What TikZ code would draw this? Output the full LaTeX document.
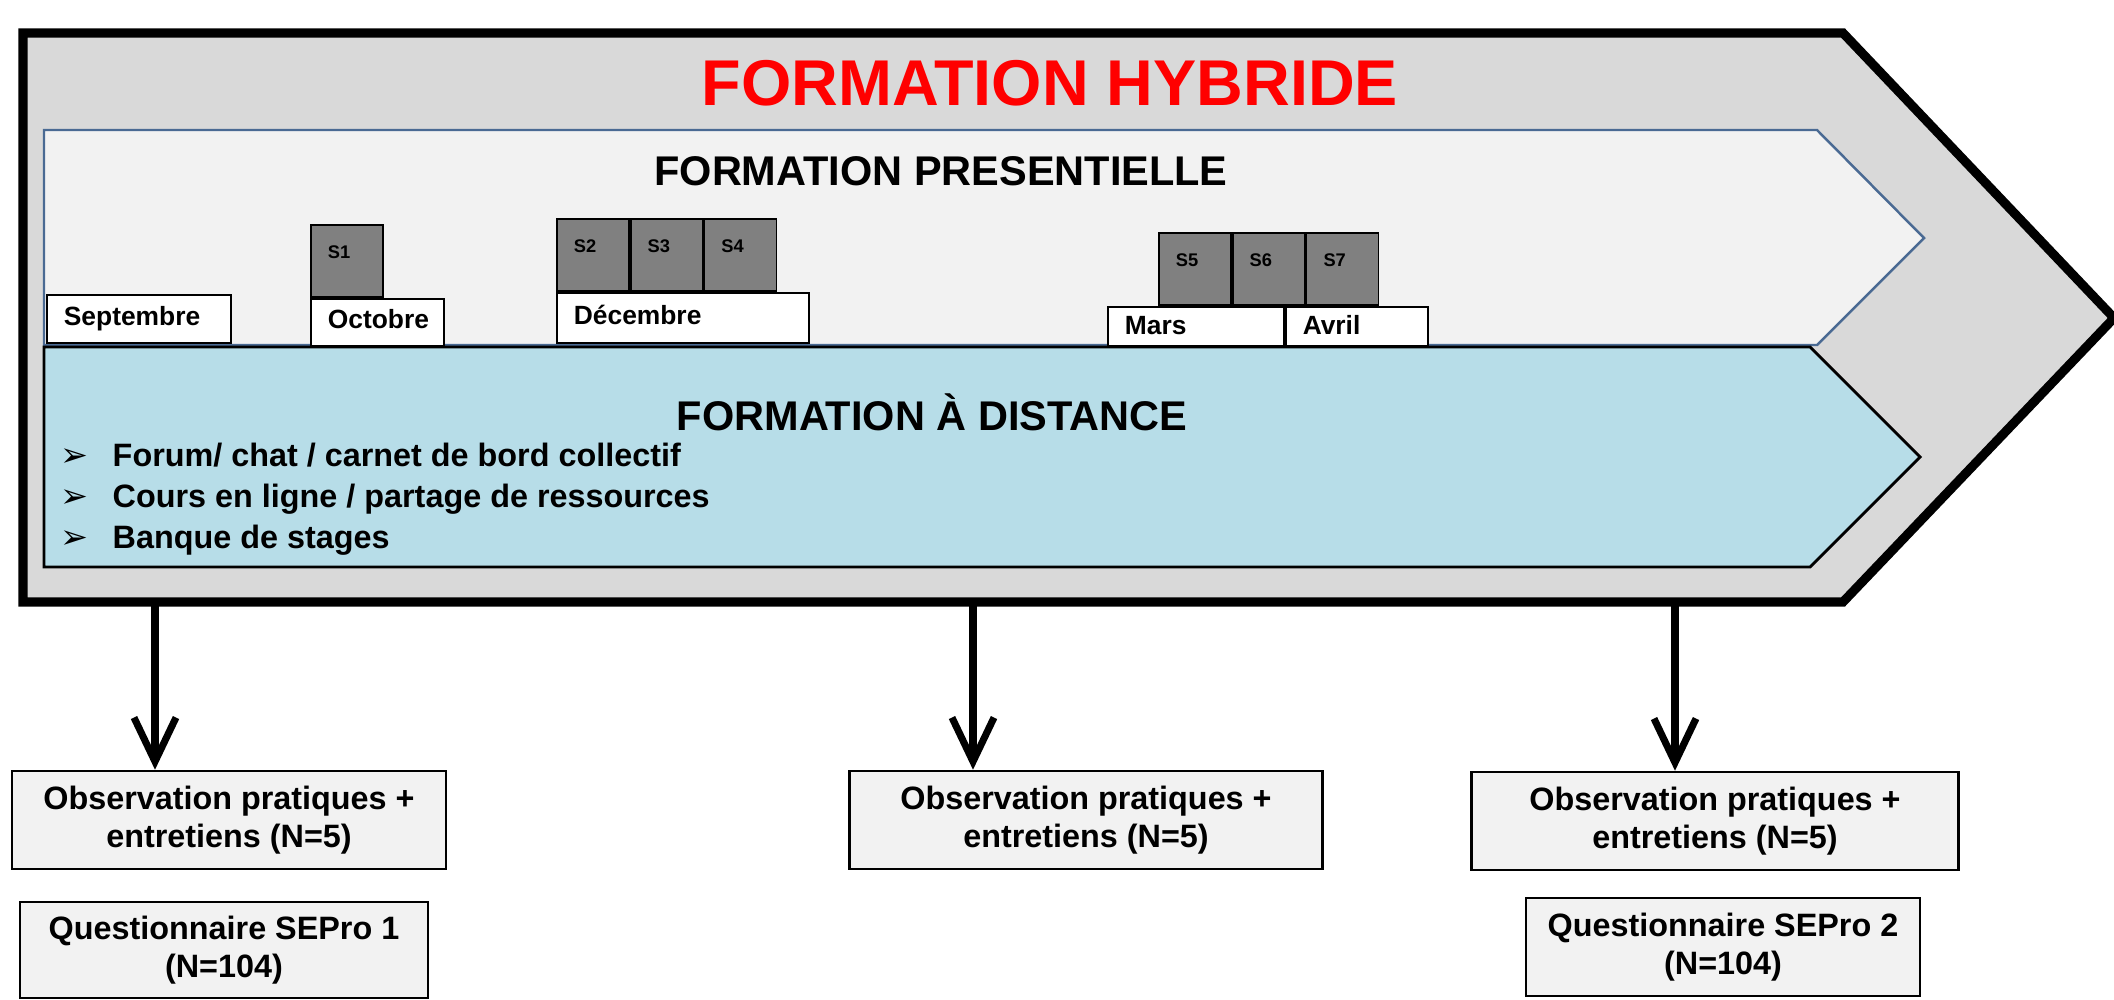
\documentclass[tikz,border=0pt]{standalone}
\usepackage{fontspec}
\setmainfont{Liberation Sans}
\newfontfamily\symfont{DejaVu Sans}
\usepackage{tikz}
\usepackage{xcolor}
\usetikzlibrary{arrows.meta, positioning}

\definecolor{hybgray}{HTML}{D9D9D9}
\definecolor{hybred}{HTML}{FF0000}
\definecolor{presfill}{HTML}{F2F2F2}
\definecolor{presblue}{HTML}{4A6A93}
\definecolor{distfill}{HTML}{B7DDE8}
\definecolor{sessgray}{HTML}{808080}
\definecolor{boxgray}{HTML}{F2F2F2}
\newcommand{\bul}{\makebox[0.52cm][l]{\symfont\fontsize{9.5}{9.5}\selectfont ➢}}

\begin{document}
\begin{tikzpicture}[x=0.01cm, y=-0.01cm, node distance=0pt]
\tikzstyle{month} = [draw=black, fill=white, line width=0.5pt, anchor=north west, inner xsep=0.17cm, inner ysep=0.05cm, text height=0.19cm, text depth=0.06cm, align=left, font=\fontsize{7.5}{9}\selectfont\bfseries]
\tikzstyle{sess} = [draw=black, fill=sessgray, line width=0.5pt, inner xsep=0.17cm, inner ysep=0.07cm, text width=0.38cm, text height=0.26cm, text depth=0.32cm, align=left, font=\fontsize{5.2}{6}\selectfont\bfseries]
\tikzstyle{obs} = [draw=black, fill=boxgray, line width=0.7pt, align=center, minimum height=0.98cm, font=\fontsize{9.2}{10.8}\selectfont\bfseries]
\tikzstyle{head} = [anchor=base, inner sep=0pt, font=\fontsize{11.8}{14}\selectfont\bfseries]
\tikzstyle{arrow} = [line width=2pt, -{Straight Barb[length=0.44cm, width=0.42cm]}]

\useasboundingbox (0,0) rectangle (2114,1000);

\draw [line width=2.6pt, fill=hybgray] (23,33) -- (1843,33) -- (2114,318) -- (1843,602) -- (23,602) -- cycle;
\draw [line width=0.7pt, draw=presblue, fill=presfill] (44,130) -- (1817,130) -- (1924,238) -- (1817,345) -- (44,345) -- cycle;
\draw [line width=0.8pt, fill=distfill] (44,347) -- (1810,347) -- (1920,457) -- (1810,567) -- (44,567) -- cycle;

\node (hyb) [anchor=base, inner sep=0pt, text=hybred, font=\fontsize{18.4}{22}\selectfont\bfseries] at (1050,105) {FORMATION HYBRIDE};
\node (pres) [head] at (941,185) {FORMATION PRESENTIELLE};
\node (dist) [head] at (932,430) {FORMATION À DISTANCE};

\node (sep) [month, text width=1.50cm, minimum height=0.48cm] at (46,294) {Septembre};
\node (oct) [month, text width=0.99cm, minimum height=0.47cm] at (310,298) {Octobre};
\node (dec) [month, text width=2.18cm, minimum height=0.50cm] at (556,292) {Décembre};
\node (mar) [month, text width=1.42cm, minimum height=0.39cm, text depth=0.03cm] at (1107,306) {Mars};
\node (avr) [month, text width=1.08cm, minimum height=0.39cm, text depth=0.03cm, right=of mar] {Avril};

\node (s1) [sess, anchor=south west] at (oct.north west) {S1};
\node (s2) [sess, anchor=south west] at (dec.north west) {S2};
\node (s3) [sess, right=of s2] {S3};
\node (s4) [sess, right=of s3] {S4};
\node (s5) [sess, anchor=south west] at (1158,306) {S5};
\node (s6) [sess, right=of s5] {S6};
\node (s7) [sess, right=of s6] {S7};

\node (items) [anchor=west, inner sep=0pt, align=left, font=\fontsize{9.2}{11.6}\selectfont\bfseries] at (60,499) {\bul Forum/ chat / carnet de bord collectif\\ \bul Cours en ligne / partage de ressources\\ \bul Banque de stages};

\node (obs1) [obs, minimum width=4.34cm] at (229,820) {Observation pratiques +\\entretiens (N=5)};
\node (obs2) [obs, minimum width=4.73cm] at (1086,820) {Observation pratiques +\\entretiens (N=5)};
\node (obs3) [obs, minimum width=4.87cm] at (1715,821) {Observation pratiques +\\entretiens (N=5)};
\node (q1) [obs, minimum width=4.08cm, minimum height=0.96cm] at (224,950) {Questionnaire SEPro 1\\(N=104)};
\node (q2) [obs, minimum width=3.94cm] at (1723,947) {Questionnaire SEPro 2\\(N=104)};

\coordinate (t1) at (155,606);
\coordinate (t2) at (973,606);
\coordinate (t3) at (1675,606);
\draw [arrow] (t1) -- (t1 |- obs1.north);
\draw [arrow] (t2) -- (t2 |- obs2.north);
\draw [arrow] (t3) -- (t3 |- obs3.north);
\end{tikzpicture}
\end{document}
